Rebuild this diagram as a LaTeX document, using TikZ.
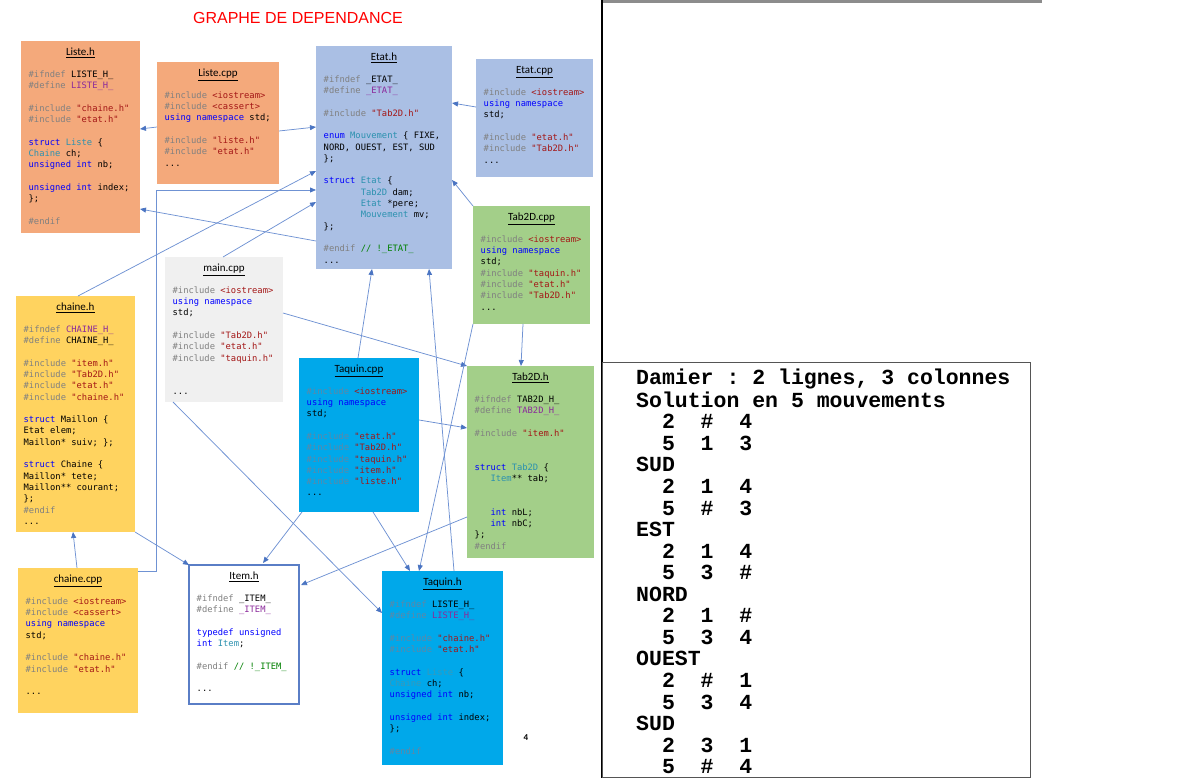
\documentclass[tikz,border=0pt]{standalone}
\usepackage{fontspec}
\usetikzlibrary{calc,arrows.meta}
\setmonofont{DejaVu Sans Mono}
\newfontfamily\hdrfam{Carlito}
\newfontfamily\titfam{Liberation Sans}
\newfontfamily\consfam{Liberation Mono}
\definecolor{orng}{HTML}{F4A97B}
\definecolor{bluebox}{HTML}{AABFE4}
\definecolor{greenbox}{HTML}{A3CF89}
\definecolor{yellbox}{HTML}{FFD35F}
\definecolor{cyanbox}{HTML}{00A8EA}
\definecolor{graybox}{HTML}{F0F0F0}
\definecolor{itemblue}{HTML}{5A7EC6}
\definecolor{connblue}{HTML}{6F92D3}
\definecolor{tipblue}{HTML}{4A74C2}
\definecolor{ppgray}{HTML}{808080}
\definecolor{ppdim}{HTML}{5F87A6}
\definecolor{strred}{HTML}{A31515}
\definecolor{kwblue}{HTML}{0000FF}
\definecolor{tyteal}{HTML}{2B91AF}
\definecolor{tydim}{HTML}{3A98B8}
\definecolor{macpurple}{HTML}{8B2A9B}
\definecolor{cmgreen}{HTML}{008000}
\definecolor{bargray}{HTML}{8C8C8C}
\definecolor{consborder}{HTML}{555555}
\newcommand\cPP[1]{\textcolor{ppgray}{#1}}
\newcommand\cPD[1]{\textcolor{ppdim}{#1}}
\newcommand\cST[1]{\textcolor{strred}{#1}}
\newcommand\cKW[1]{\textcolor{kwblue}{#1}}
\newcommand\cTY[1]{\textcolor{tyteal}{#1}}
\newcommand\cTD[1]{\textcolor{tydim}{#1}}
\newcommand\cMC[1]{\textcolor{macpurple}{#1}}
\newcommand\cCM[1]{\textcolor{cmgreen}{#1}}
\newcommand\cIND[1]{\hspace*{#1\fontcharwd\font`0}}
\newcommand\cRow[3]{\hspace*{2\fontcharwd\font`0}#1\hspace*{2\fontcharwd\font`0}#2\hspace*{2\fontcharwd\font`0}#3}
\newcommand\fixmonospace{\spaceskip=\fontcharwd\font`0\relax\xspaceskip=\spaceskip\rightskip=0pt plus 1fil\relax\parindent=0pt\relax}
\newcommand\codefont{\ttfamily\fontsize{8.8}{11.3}\selectfont}
\newcommand\consfont{\consfam\bfseries\fontsize{21.5}{21.56}\selectfont}
\newcommand\filebox[8]{%
  \node[fbox, #6, minimum width=#4pt, minimum height=#5pt] (#1) at (#2,#3) {};
  \node[ftitle] (#1-t) at ($(#1.north)+(0,14.8)$) {\underline{#7}};
  \node[fcode] (#1-c) at ($(#1.north west)+(7.5,28.1)$) {\fixmonospace\noindent\strut #8};
}
\begin{document}
\begin{tikzpicture}[x=1pt,y=-1pt,
  fbox/.style={rectangle, anchor=north west, inner sep=0pt, outer sep=0pt},
  ftitle/.style={anchor=base, inner sep=0pt, font=\hdrfam\fontsize{11}{13}\selectfont},
  fcode/.style={anchor=north west, inner sep=0pt, text width=230pt, font=\codefont},
  conn/.style={draw=connblue, line width=0.75pt, -{Triangle[length=6pt,width=5pt,color=tipblue]}},
  cons/.style={anchor=north west, inner sep=0pt, text width=420pt, font=\consfont}]
\useasboundingbox (0,0) rectangle (1178,778);

\node[text=red, font=\titfam\fontsize{16}{18}\selectfont, inner sep=0pt] (title) at (298,18) {GRAPHE DE DEPENDANCE};

\filebox{listeh}{21}{41}{119}{192}{fill=orng}{Liste.h}{%
\cPP{\#ifndef} LISTE\_H\_\\
\cPP{\#define} \cMC{LISTE\_H\_}\\
\strut\\
\cPP{\#include} \cST{"chaine.h"}\\
\cPP{\#include} \cST{"etat.h"}\\
\strut\\
\cKW{struct} \cTY{Liste} \{\\
\cTY{Chaine} ch;\\
\cKW{unsigned} \cKW{int} nb;\\
\strut\\
\cKW{unsigned} \cKW{int} index;\\
\};\\
\strut\\
\cPP{\#endif}}

\filebox{listecpp}{157}{62}{122}{122}{fill=orng}{Liste.cpp}{%
\cPP{\#include} \cST{<iostream>}\\
\cPP{\#include} \cST{<cassert>}\\
\cKW{using} \cKW{namespace} std;\\
\strut\\
\cPP{\#include} \cST{"liste.h"}\\
\cPP{\#include} \cST{"etat.h"}\\
...}

\filebox{etath}{316}{46}{136}{223}{fill=bluebox}{Etat.h}{%
\cPP{\#ifndef} \_ETAT\_\\
\cPP{\#define} \cMC{\_ETAT\_}\\
\strut\\
\cPP{\#include} \cST{"Tab2D.h"}\\
\strut\\
\cKW{enum} \cTY{Mouvement} \{ FIXE,\\
NORD, OUEST, EST, SUD\\
\};\\
\strut\\
\cKW{struct} \cTY{Etat} \{\\
\cIND{7}\cTY{Tab2D} dam;\\
\cIND{7}\cTY{Etat} *pere;\\
\cIND{7}\cTY{Mouvement} mv;\\
\};\\
\strut\\
\cPP{\#endif} \cCM{// !\_ETAT\_}\\
...}

\filebox{etatcpp}{476}{59}{117}{118}{fill=bluebox}{Etat.cpp}{%
\cPP{\#include} \cST{<iostream>}\\
\cKW{using} \cKW{namespace}\\
std;\\
\strut\\
\cPP{\#include} \cST{"etat.h"}\\
\cPP{\#include} \cST{"Tab2D.h"}\\
...}

\filebox{tabcpp}{473}{206}{117}{118}{fill=greenbox}{Tab2D.cpp}{%
\cPP{\#include} \cST{<iostream>}\\
\cKW{using} \cKW{namespace}\\
std;\\
\cPP{\#include} \cST{"taquin.h"}\\
\cPP{\#include} \cST{"etat.h"}\\
\cPP{\#include} \cST{"Tab2D.h"}\\
...}

\filebox{maincpp}{165}{257}{118}{145}{fill=graybox}{main.cpp}{%
\cPP{\#include} \cST{<iostream>}\\
\cKW{using} \cKW{namespace}\\
std;\\
\strut\\
\cPP{\#include} \cST{"Tab2D.h"}\\
\cPP{\#include} \cST{"etat.h"}\\
\cPP{\#include} \cST{"taquin.h"}\\
\strut\\
\strut\\
...}

\filebox{chaineh}{16}{296}{119}{236}{fill=yellbox}{chaine.h}{%
\cPP{\#ifndef} \cMC{CHAINE\_H\_}\\
\cPP{\#define} CHAINE\_H\_\\
\strut\\
\cPP{\#include} \cST{"item.h"}\\
\cPP{\#include} \cST{"Tab2D.h"}\\
\cPP{\#include} \cST{"etat.h"}\\
\cPP{\#include} \cST{"chaine.h"}\\
\strut\\
\cKW{struct} Maillon \{\\
Etat elem;\\
Maillon* suiv; \};\\
\strut\\
\cKW{struct} Chaine \{\\
Maillon* tete;\\
Maillon** courant;\\
\};\\
\cPP{\#endif}\\
...}

\filebox{taqcpp}{299}{358}{120}{154}{fill=cyanbox}{Taquin.cpp}{%
\cPD{\#include} \cST{<iostream>}\\
\cKW{using} \cKW{namespace}\\
std;\\
\strut\\
\cPD{\#include} \cST{"etat.h"}\\
\cPD{\#include} \cST{"Tab2D.h"}\\
\cPD{\#include} \cST{"taquin.h"}\\
\cPD{\#include} \cST{"item.h"}\\
\cPD{\#include} \cST{"liste.h"}\\
...}

\filebox{tabh}{467}{366}{127}{192}{fill=greenbox}{Tab2D.h}{%
\cPP{\#ifndef} TAB2D\_H\_\\
\cPP{\#define} \cMC{TAB2D\_H\_}\\
\strut\\
\cPP{\#include} \cST{"item.h"}\\
\strut\\
\strut\\
\cKW{struct} \cTY{Tab2D} \{\\
\cIND{3}\cTY{Item}** tab;\\
\strut\\
\strut\\
\cIND{3}\cKW{int} nbL;\\
\cIND{3}\cKW{int} nbC;\\
\};\\
\cPP{\#endif}}

\filebox{chainecpp}{18}{568}{120}{145}{fill=yellbox}{chaine.cpp}{%
\cPP{\#include} \cST{<iostream>}\\
\cPP{\#include} \cST{<cassert>}\\
\cKW{using} \cKW{namespace}\\
std;\\
\strut\\
\cPP{\#include} \cST{"chaine.h"}\\
\cPP{\#include} \cST{"etat.h"}\\
\strut\\
...}

\filebox{itemh}{189}{565}{110}{139}{fill=white, draw=itemblue, line width=1.4pt}{Item.h}{%
\cPP{\#ifndef} \_ITEM\_\\
\cPP{\#define} \cMC{\_ITEM\_}\\
\strut\\
\cKW{typedef} \cKW{unsigned}\\
\cKW{int} \cTY{Item};\\
\strut\\
\cPP{\#endif} \cCM{// !\_ITEM\_}\\
\strut\\
...}

\filebox{taqh}{382}{571}{121}{194}{fill=cyanbox}{Taquin.h}{%
\cPD{\#ifndef} LISTE\_H\_\\
\cPD{\#define} \cMC{LISTE\_H\_}\\
\strut\\
\cPD{\#include} \cST{"chaine.h"}\\
\cPD{\#include} \cST{"etat.h"}\\
\strut\\
\cKW{struct} \cTD{Liste} \{\\
\cTD{Chaine} ch;\\
\cKW{unsigned} \cKW{int} nb;\\
\strut\\
\cKW{unsigned} \cKW{int} index;\\
\};\\
\strut\\
\cPD{\#endif}}

\node[font=\hdrfam\bfseries\fontsize{9}{10}\selectfont, inner sep=0pt] (pagenum) at (526,738) {4};

% connectors
\draw[conn] ($(listecpp.north west)+(0,65)$) -- ($(listeh.north east)+(0,88)$);
\draw[conn] ($(listecpp.north east)+(0,69)$) -- ($(etath.north west)+(0,81)$);
\draw[conn] ($(etath.north west)+(0,195)$) -- ($(listeh.north east)+(0,168)$);
\draw[conn] ($(chaineh.north)+(2.5,0)$) -- ($(etath.north west)+(0,125)$);
\draw[conn] ($(chainecpp.north east)+(0,3)$) -- ++(18,0) |- ($(etath.north west)+(0,144)$);
\draw[conn] ($(maincpp.north)+(-1,0)$) -- ($(etath.north west)+(0,156)$);
\draw[conn] ($(etatcpp.north west)+(0,48)$) -- ($(etath.north east)+(0,57)$);
\draw[conn] (tabcpp.north west) -- ($(etath.north east)+(0,134)$);
\draw[conn] ($(taqcpp.north west)+(59,0)$) -- ($(etath.south west)+(56,0)$);
\draw[conn] ($(taqh.north west)+(72,0)$) -- ($(etath.south west)+(113,0)$);
\draw[conn] ($(tabcpp.south west)+(50,0)$) -- ($(tabh.north west)+(54,0)$);
\draw[conn] ($(maincpp.north east)+(0,56)$) -- (tabh.north west);
\draw[conn] ($(taqcpp.north east)+(0,62)$) -- ($(tabh.north west)+(0,62)$);
\draw[conn] (tabcpp.south west) -- ($(taqh.north west)+(37,0)$);
\draw[conn] ($(tabh.north west)+(0,151)$) -- ($(itemh.north east)+(2,20)$);
\draw[conn] ($(taqcpp.south west)+(3,0)$) -- ($(itemh.north west)+(74,-2)$);
\draw[conn] ($(taqcpp.south west)+(74,0)$) -- ($(taqh.north west)+(28,0)$);
\draw[conn] ($(maincpp.south west)+(8,0)$) -- ($(taqh.north west)+(0,42)$);
\draw[conn] (chaineh.south east) -- (itemh.north west);
\draw[conn] ($(chainecpp.north west)+(59,0)$) -- ($(chaineh.south west)+(57,0)$);

% right panel
\fill[bargray] (602,0) rectangle (1042,2.6);
\draw[black, line width=1.3pt] (602,0) -- (602,778);
\draw[consborder, line width=0.8pt] (602,362) rectangle (1030,777);
\node[cons] (console) at (636,368.4) {\fixmonospace\noindent\strut Damier : 2 lignes, 3 colonnes\\
Solution en 5 mouvements\\
\cRow{2}{\#}{4}\\
\cRow{5}{1}{3}\\
SUD\\
\cRow{2}{1}{4}\\
\cRow{5}{\#}{3}\\
EST\\
\cRow{2}{1}{4}\\
\cRow{5}{3}{\#}\\
NORD\\
\cRow{2}{1}{\#}\\
\cRow{5}{3}{4}\\
OUEST\\
\cRow{2}{\#}{1}\\
\cRow{5}{3}{4}\\
SUD\\
\cRow{2}{3}{1}\\
\cRow{5}{\#}{4}};
\end{tikzpicture}
\end{document}
